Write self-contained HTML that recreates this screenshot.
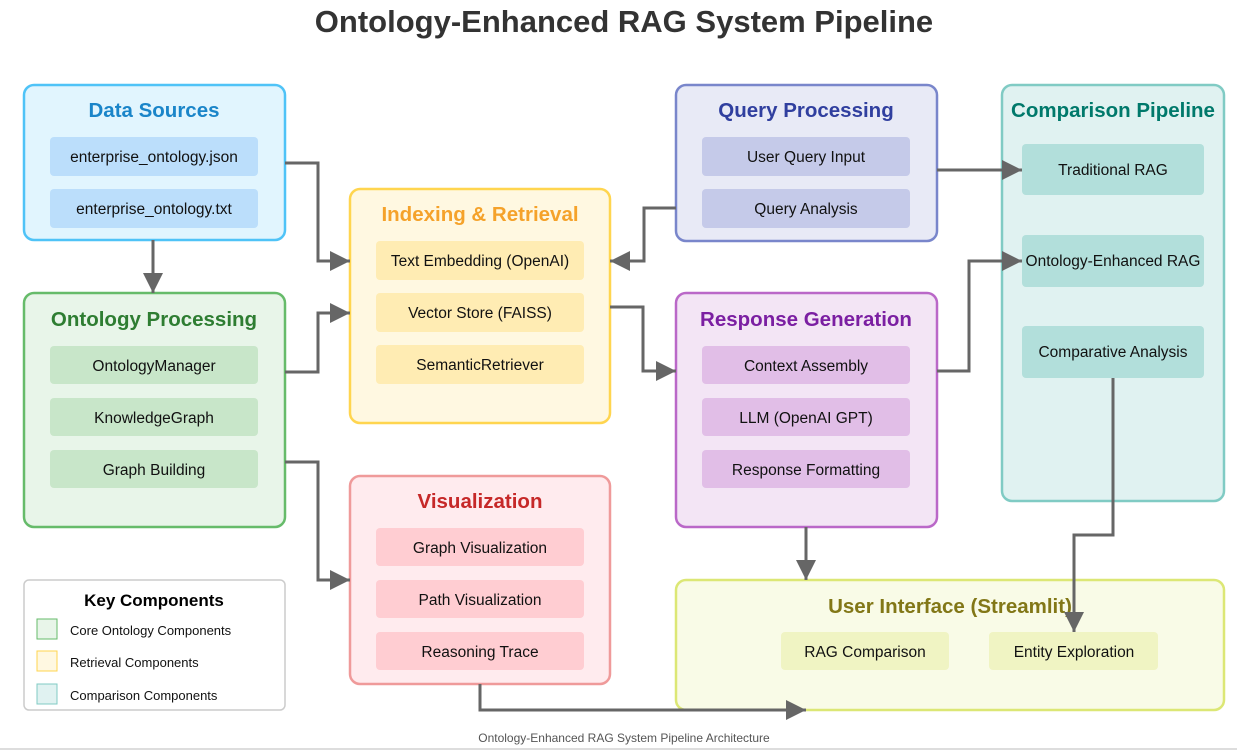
<!DOCTYPE html>
<html><head><meta charset="utf-8"><style>
html,body{margin:0;padding:0;background:#fff;width:1237px;height:750px;overflow:hidden}
svg{display:block;font-family:"Liberation Sans",Arial,sans-serif}
.t{font-weight:bold;font-size:20.5px;text-anchor:middle}
.i{font-size:15.5px;text-anchor:middle;fill:#111}
.a{fill:none;stroke:#666;stroke-width:3}
</style></head><body>
<svg width="1237" height="750" viewBox="0 0 1237 750">
<defs>
<marker id="M" viewBox="0 0 10 10" refX="10" refY="5" markerWidth="24" markerHeight="20" orient="auto" markerUnits="userSpaceOnUse"><path d="M0,0 L10,5 L0,10z" fill="#666"/></marker></defs>
<text x="624" y="32" text-anchor="middle" font-size="31" font-weight="bold" fill="#333">Ontology-Enhanced RAG System Pipeline</text>

<rect x="24" y="85" width="261" height="155" rx="10" fill="#e1f5fe" stroke="#4fc3f7" stroke-width="2.5"/>
<text class="t" x="154" y="117" fill="#1a85c9">Data Sources</text>
<rect x="50" y="137" width="208" height="39" rx="4" fill="#bbdefb"/><text class="i" x="154" y="162">enterprise_ontology.json</text>
<rect x="50" y="189" width="208" height="39" rx="4" fill="#bbdefb"/><text class="i" x="154" y="214">enterprise_ontology.txt</text>

<rect x="24" y="293" width="261" height="234" rx="10" fill="#e8f5e9" stroke="#66bb6a" stroke-width="2.5"/>
<text class="t" x="154" y="326" fill="#2e7d32">Ontology Processing</text>
<rect x="50" y="346" width="208" height="38" rx="4" fill="#c8e6c9"/><text class="i" x="154" y="371">OntologyManager</text>
<rect x="50" y="398" width="208" height="38" rx="4" fill="#c8e6c9"/><text class="i" x="154" y="423">KnowledgeGraph</text>
<rect x="50" y="450" width="208" height="38" rx="4" fill="#c8e6c9"/><text class="i" x="154" y="475">Graph Building</text>

<rect x="350" y="189" width="260" height="234" rx="10" fill="#fff8e1" stroke="#ffd54f" stroke-width="2.5"/>
<text class="t" x="480" y="221" fill="#f5a22a">Indexing &amp; Retrieval</text>
<rect x="376" y="241" width="208" height="39" rx="4" fill="#ffecb3"/><text class="i" x="480" y="266">Text Embedding (OpenAI)</text>
<rect x="376" y="293" width="208" height="39" rx="4" fill="#ffecb3"/><text class="i" x="480" y="318">Vector Store (FAISS)</text>
<rect x="376" y="345" width="208" height="39" rx="4" fill="#ffecb3"/><text class="i" x="480" y="370">SemanticRetriever</text>

<rect x="350" y="476" width="260" height="208" rx="10" fill="#ffebee" stroke="#ef9a9a" stroke-width="2.5"/>
<text class="t" x="480" y="508" fill="#c62828">Visualization</text>
<rect x="376" y="528" width="208" height="38" rx="4" fill="#ffcdd2"/><text class="i" x="480" y="553">Graph Visualization</text>
<rect x="376" y="580" width="208" height="38" rx="4" fill="#ffcdd2"/><text class="i" x="480" y="605">Path Visualization</text>
<rect x="376" y="632" width="208" height="38" rx="4" fill="#ffcdd2"/><text class="i" x="480" y="657">Reasoning Trace</text>

<rect x="676" y="85" width="261" height="156" rx="10" fill="#e8eaf6" stroke="#7986cb" stroke-width="2.5"/>
<text class="t" x="806" y="117" fill="#303f9f">Query Processing</text>
<rect x="702" y="137" width="208" height="39" rx="4" fill="#c5cae9"/><text class="i" x="806" y="162">User Query Input</text>
<rect x="702" y="189" width="208" height="39" rx="4" fill="#c5cae9"/><text class="i" x="806" y="214">Query Analysis</text>

<rect x="676" y="293" width="261" height="234" rx="10" fill="#f3e5f5" stroke="#ba68c8" stroke-width="2.5"/>
<text class="t" x="806" y="326" fill="#7b1fa2">Response Generation</text>
<rect x="702" y="346" width="208" height="38" rx="4" fill="#e1bee7"/><text class="i" x="806" y="371">Context Assembly</text>
<rect x="702" y="398" width="208" height="38" rx="4" fill="#e1bee7"/><text class="i" x="806" y="423">LLM (OpenAI GPT)</text>
<rect x="702" y="450" width="208" height="38" rx="4" fill="#e1bee7"/><text class="i" x="806" y="475">Response Formatting</text>

<rect x="1002" y="85" width="222" height="416" rx="10" fill="#e0f2f1" stroke="#80cbc4" stroke-width="2.5"/>
<text class="t" x="1113" y="117" fill="#00796b">Comparison Pipeline</text>
<rect x="1022" y="144" width="182" height="51" rx="4" fill="#b2dfdb"/><text class="i" x="1113" y="175">Traditional RAG</text>
<rect x="1022" y="235" width="182" height="52" rx="4" fill="#b2dfdb"/><text class="i" x="1113" y="266">Ontology-Enhanced RAG</text>
<rect x="1022" y="326" width="182" height="52" rx="4" fill="#b2dfdb"/><text class="i" x="1113" y="357">Comparative Analysis</text>

<rect x="676" y="580" width="548" height="130" rx="10" fill="#f9fbe7" stroke="#dce775" stroke-width="2.5"/>
<text class="t" x="950" y="613" fill="#827717">User Interface (Streamlit)</text>
<rect x="781" y="632" width="168" height="38" rx="4" fill="#f0f4c3"/><text class="i" x="865" y="657">RAG Comparison</text>
<rect x="989" y="632" width="169" height="38" rx="4" fill="#f0f4c3"/><text class="i" x="1074" y="657">Entity Exploration</text>

<rect x="24" y="580" width="261" height="130" rx="5" fill="#fff" stroke="#ccc" stroke-width="1.5"/>
<text x="154" y="606" text-anchor="middle" font-size="17" font-weight="bold" fill="#000">Key Components</text>
<rect x="37" y="619" width="20" height="20" fill="#e8f5e9" stroke="#66bb6a"/><text x="70" y="635" font-size="13" fill="#111">Core Ontology Components</text>
<rect x="37" y="651" width="20" height="20" fill="#fff8e1" stroke="#ffd54f"/><text x="70" y="667" font-size="13" fill="#111">Retrieval Components</text>
<rect x="37" y="684" width="20" height="20" fill="#e0f2f1" stroke="#80cbc4"/><text x="70" y="700" font-size="13" fill="#111">Comparison Components</text>

<path class="a" d="M153,240 V293" marker-end="url(#M)"/>
<path class="a" d="M285,163 H318 V261 H350" marker-end="url(#M)"/>
<path class="a" d="M285,372 H318 V313 H350" marker-end="url(#M)"/>
<path class="a" d="M285,462 H318 V580 H350" marker-end="url(#M)"/>
<path class="a" d="M676,208 H644 V261 H610" marker-end="url(#M)"/>
<path class="a" d="M610,307 H643 V371 H676" marker-end="url(#M)"/>
<path class="a" d="M937,170 H1022" marker-end="url(#M)"/>
<path class="a" d="M937,371 H969 V261 H1022" marker-end="url(#M)"/>
<path class="a" d="M806,527 V580" marker-end="url(#M)"/>
<path class="a" d="M1113,378 V535 H1074 V632" marker-end="url(#M)"/>
<path class="a" d="M480,684 V710 H806" marker-end="url(#M)"/>

<text x="624" y="742" text-anchor="middle" font-size="12" fill="#555">Ontology-Enhanced RAG System Pipeline Architecture</text>
<line x1="0" y1="749" x2="1237" y2="749" stroke="#ddd" stroke-width="2"/>
</svg>
</body></html>
